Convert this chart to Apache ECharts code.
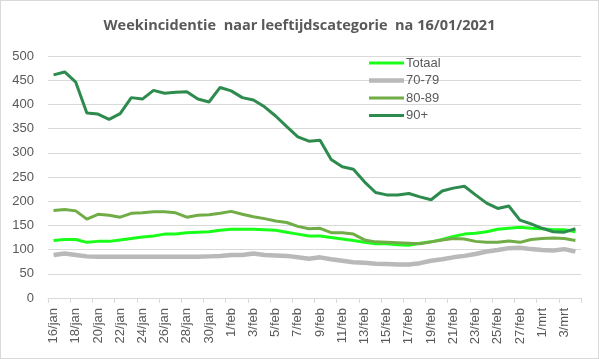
<!DOCTYPE html>
<html><head><meta charset="utf-8">
<script src="https://cdn.jsdelivr.net/npm/echarts@6/dist/echarts.min.js"></script>
<style>html,body{margin:0;padding:0;background:#fff}#c{width:599px;height:359px;box-sizing:border-box;border:1px solid #d9d9d9}</style>
</head><body><div id="c"></div>
<script>
const categories = ["16/jan","17/jan","18/jan","19/jan","20/jan","21/jan","22/jan","23/jan","24/jan","25/jan","26/jan","27/jan","28/jan","29/jan","30/jan","31/jan",
"1/feb","2/feb","3/feb","4/feb","5/feb","6/feb","7/feb","8/feb","9/feb","10/feb","11/feb","12/feb","13/feb","14/feb","15/feb","16/feb","17/feb","18/feb","19/feb","20/feb","21/feb","22/feb","23/feb","24/feb","25/feb","26/feb","27/feb","28/feb",
"1/mrt","2/mrt","3/mrt","4/mrt"];
const totaal = [119,121,121,115,117,117,120,123,126,128,132,132,135,136,137,140,142,142,142,141,140,136,132,128,128,125,122,119,115,112,112,110,109,113,116,121,127,132,134,137,142,144,146,144,143,141,141,137];
const age7079 = [89,92,89,86,85,85,85,85,85,85,85,85,85,85,86,87,89,89,92,89,88,87,84,81,84,80,77,74,73,71,70,69,69,72,77,80,84,87,91,96,99,103,104,101,99,98,101,96];
const age8089 = [181,183,180,163,173,171,167,175,176,178,178,176,167,171,172,175,179,173,168,164,159,156,148,143,144,135,135,132,120,116,115,114,113,112,116,120,123,122,117,115,115,118,115,121,123,124,123,119];
const age90 = [461,467,446,382,380,369,381,414,411,429,423,425,426,411,405,435,428,414,409,395,376,354,333,324,326,286,271,266,240,218,213,213,216,209,203,221,227,231,213,196,185,190,161,153,144,137,136,143];
const seriesNames = ["Totaal","70-79","80-89","90+"];
const seriesColors = ["#1aff1a","#b9b9b9","#70ad47","#2e8b4e"];
const seriesWidths = [3,4.5,3,3];
const seriesData = [totaal, age7079, age8089, age90];

const legendTops = [55, 72.5, 90, 107.5];
const chart = echarts.init(document.getElementById('c'), null, {renderer:'canvas'});
chart.setOption({
  animation:false,
  title:{text:"Weekincidentie  naar leeftijdscategorie  na 16/01/2021",left:'center',top:12,
    textStyle:{fontFamily:'Open Sans',fontWeight:'bold',fontSize:14.5,color:'#595959'}},
  grid:{left:47,right:17,top:55,bottom:60,containLabel:false},
  legend: seriesNames.map((n,i)=>({orient:'vertical',left:368,top:legendTops[i],padding:0,
    itemWidth:35,itemHeight:seriesWidths[i],itemGap:0,icon:'rect',
    data:[{name:n,icon:'rect',itemStyle:{color:seriesColors[i],borderWidth:0}}],
    textStyle:{fontFamily:'Liberation Sans',fontSize:13,color:'#595959',padding:[0,0,0,-3],lineHeight:14}})),
  xAxis:{type:'category',data:categories,boundaryGap:true,
    axisLine:{lineStyle:{color:'#d9d9d9'}},
    axisTick:{show:true,interval:1,length:5,lineStyle:{color:'#d9d9d9'},alignWithLabel:false},
    axisLabel:{interval:1,rotate:90,fontFamily:'Liberation Sans',fontSize:13,color:'#595959',margin:10}},
  yAxis:{type:'value',min:0,max:500,interval:50,
    axisLine:{show:false},axisTick:{show:false},
    splitLine:{lineStyle:{color:'#d9d9d9'}},
    axisLabel:{fontFamily:'Liberation Sans',fontSize:13,color:'#595959',margin:14}},
  series: seriesNames.map((n,i)=>({name:n,type:'line',data:seriesData[i],symbol:'none',
    lineStyle:{color:seriesColors[i],width:seriesWidths[i]},itemStyle:{color:seriesColors[i]},z:2+ (i===3?1:0)}))
});
</script></body></html>
